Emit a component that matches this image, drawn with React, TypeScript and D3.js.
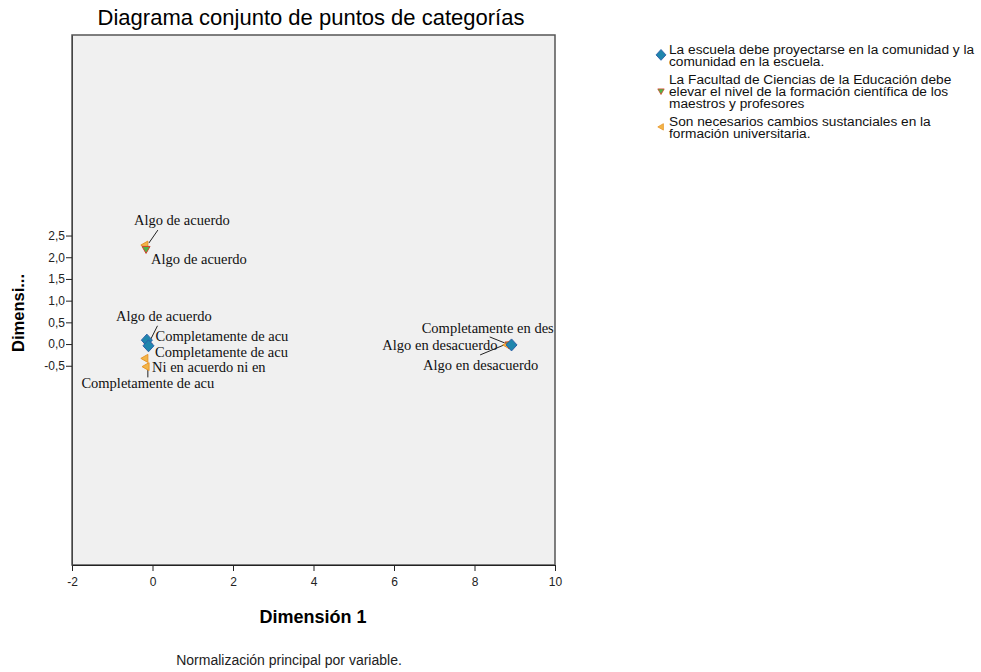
import React, { useEffect, useRef } from 'react';
import * as d3 from 'd3';

// legend / series names
const seriesNames = [
  ['La escuela debe proyectarse en la comunidad y la', 'comunidad en la escuela.'],
  ['La Facultad de Ciencias de la Educación debe', 'elevar el nivel de la formación científica de los', 'maestros y profesores'],
  ['Son necesarios cambios sustanciales en la', 'formación universitaria.'],
];

// serie 1: la escuela
const escuelaCats = ['Algo de acuerdo', 'Completamente de acu', 'Algo en desacuerdo'];
const escuelaDim1 = [-0.14, -0.1, 8.92];
const escuelaDim2 = [0.09, -0.04, -0.02];

// serie 2: facultad
const facultadCats = ['Algo de acuerdo', 'Completamente de acu', 'Algo en desacuerdo'];
const facultadDim1 = [-0.16, -0.11, 8.86];
const facultadDim2 = [2.18, -0.05, -0.02];

// serie 3: cambios
const cambiosCats = ['Algo de acuerdo', 'Completamente de acu', 'Ni en acuerdo ni en ', 'Completamente en des'];
const cambiosDim1 = [-0.19, -0.19, -0.16, 8.8];
const cambiosDim2 = [2.28, -0.33, -0.52, -0.02];

const xTicks = [-2, 0, 2, 4, 6, 8, 10];
const yTicks = [-0.5, 0, 0.5, 1, 1.5, 2, 2.5];

// label placement (pixels, relative to the point) - layout only
const escuelaLabelPos = [
  { dx: 17, dy: -24, anchor: 'middle', leader: null },
  { dx: 7, dy: -10, anchor: 'start', leader: [2, -6, 9, -20] },
  { dx: -14, dy: 0, anchor: 'end', leader: null },
];
const facultadLabelPos = [
  { dx: 5, dy: 9, anchor: 'start', leader: null },
  { dx: 7, dy: 6, anchor: 'start', leader: null },
  { dx: -86, dy: 20, anchor: 'start', leader: [-5, 0, -29, 10] },
];
const cambiosLabelPos = [
  { dx: 37, dy: -25, anchor: 'middle', leader: [4, -2, 13, -15] },
  { dx: 3, dy: 25, anchor: 'middle', leader: [3, 5, 3, 19] },
  { dx: 6, dy: 0, anchor: 'start', leader: null },
  { dx: -85, dy: -17, anchor: 'start', leader: [-2, -2, -17, -8] },
];

const diamondPath = 'M0,-6L5.5,0L0,6L-5.5,0Z';
const triDownPath = 'M-4,-3L4,-3L0,4Z';
const triLeftPath = 'M-4,0L3,-4L3,4Z';

const markerStyles = [
  { path: diamondPath, fill: '#1f86ad', stroke: '#2b5fa8' },
  { path: triDownPath, fill: '#4fb548', stroke: '#d0452b' },
  { path: triLeftPath, fill: '#f2b548', stroke: '#e8952a' },
];

function App() {
  const ref = useRef(null);

  useEffect(() => {
    document.body.style.margin = '0';
    drawChart();
  });

  function drawChart() {
    const left = 72, right = 555, top = 35, bottom = 565;
    const width = 981, height = 672;
    const sans = 'Liberation Sans, Arial, sans-serif';

    d3.select(ref.current).select('svg').remove();

    const svg = d3.select(ref.current)
      .append('svg')
      .attr('width', width)
      .attr('height', height)
      .style('display', 'block')
      .style('background', 'white');

    const xScale = d3.scaleLinear().domain([-2, 10]).range([left, right]);
    const yScale = d3.scaleLinear().domain([-5.09, 7.12]).range([bottom, top]);

    // title
    svg.append('text')
      .attr('x', 311)
      .attr('y', 17)
      .attr('dy', '0.35em')
      .style('text-anchor', 'middle')
      .style('font-family', sans)
      .style('font-size', '22px')
      .text('Diagrama conjunto de puntos de categorías');

    // plot area
    svg.append('defs').append('clipPath')
      .attr('id', 'plotclip')
      .append('rect')
      .attr('x', left).attr('y', top)
      .attr('width', right - left).attr('height', bottom - top);

    svg.append('rect')
      .attr('x', left).attr('y', top)
      .attr('width', right - left).attr('height', bottom - top)
      .attr('fill', '#f0f0f0')
      .attr('stroke', '#555')
      .attr('stroke-width', 1.5);

    const numFmt = (d) => String(d).replace('.', ',');

    // x axis
    const xAxis = d3.axisBottom(xScale)
      .tickValues(xTicks)
      .tickSize(6)
      .tickSizeOuter(0)
      .tickFormat(numFmt);
    const gx = svg.append('g')
      .attr('transform', `translate(0, ${bottom})`)
      .call(xAxis);
    gx.select('.domain').attr('stroke', '#222');
    gx.selectAll('.tick line').attr('stroke', '#222');
    gx.selectAll('text')
      .attr('y', 12)
      .style('font-family', sans)
      .style('font-size', '12px')
      .attr('fill', '#222');

    // y axis
    const commaFmt = (d) => d3.format('.1f')(d).replace('.', ',').replace('−', '-');
    const yAxis = d3.axisLeft(yScale)
      .tickValues(yTicks)
      .tickSize(6)
      .tickSizeOuter(0)
      .tickFormat(commaFmt);
    const gy = svg.append('g')
      .attr('transform', `translate(${left}, 0)`)
      .call(yAxis);
    gy.select('.domain').attr('stroke', '#444');
    gy.selectAll('.tick line').attr('stroke', '#222');
    gy.selectAll('text')
      .attr('x', -7)
      .style('font-family', sans)
      .style('font-size', '12px')
      .attr('fill', '#222');

    // axis titles
    svg.append('text')
      .attr('x', 313)
      .attr('y', 617)
      .attr('dy', '0.35em')
      .style('text-anchor', 'middle')
      .style('font-family', sans)
      .style('font-weight', 'bold')
      .style('font-size', '18px')
      .text('Dimensión 1');

    svg.append('text')
      .attr('transform', 'translate(18, 313) rotate(-90)')
      .attr('dy', '0.35em')
      .style('text-anchor', 'middle')
      .style('font-family', sans)
      .style('font-weight', 'bold')
      .style('font-size', '16.5px')
      .text('Dimensi...');

    svg.append('text')
      .attr('x', 289)
      .attr('y', 660)
      .attr('dy', '0.35em')
      .style('text-anchor', 'middle')
      .style('font-family', sans)
      .style('font-size', '14px')
      .attr('fill', '#222')
      .text('Normalización principal por variable.');

    const series = [
      { cats: escuelaCats, d1: escuelaDim1, d2: escuelaDim2, pos: escuelaLabelPos },
      { cats: facultadCats, d1: facultadDim1, d2: facultadDim2, pos: facultadLabelPos },
      { cats: cambiosCats, d1: cambiosDim1, d2: cambiosDim2, pos: cambiosLabelPos },
    ];

    const plot = svg.append('g').attr('clip-path', 'url(#plotclip)');

    // leader lines
    series.forEach((s) => {
      s.cats.forEach((c, i) => {
        const p = s.pos[i];
        if (!p.leader) return;
        const px = xScale(s.d1[i]), py = yScale(s.d2[i]);
        plot.append('line')
          .attr('x1', px + p.leader[0]).attr('y1', py + p.leader[1])
          .attr('x2', px + p.leader[2]).attr('y2', py + p.leader[3])
          .attr('stroke', '#222')
          .attr('stroke-width', 1);
      });
    });

    // markers (draw last series first so diamonds end on top)
    [2, 1, 0].forEach((k) => {
      const s = series[k];
      const m = markerStyles[k];
      plot.append('g')
        .selectAll('path')
        .data(s.cats.map((c, i) => ({ x: s.d1[i], y: s.d2[i] })))
        .enter()
        .append('path')
        .attr('d', m.path)
        .attr('transform', (d) => `translate(${xScale(d.x)}, ${yScale(d.y)})`)
        .attr('fill', m.fill)
        .attr('stroke', m.stroke)
        .attr('stroke-width', 1);
    });

    // category labels
    series.forEach((s) => {
      s.cats.forEach((c, i) => {
        const p = s.pos[i];
        plot.append('text')
          .attr('x', xScale(s.d1[i]) + p.dx)
          .attr('y', yScale(s.d2[i]) + p.dy)
          .attr('dy', '0.35em')
          .style('text-anchor', p.anchor)
          .style('font-family', 'Liberation Serif, Times New Roman, serif')
          .style('font-size', '14.5px')
          .attr('fill', '#111')
          .text(c);
      });
    });

    // legend
    const legendTop = [49, 79.5, 121];
    const lineH = 11.8;
    seriesNames.forEach((lines, k) => {
      const m = markerStyles[k];
      const y0 = legendTop[k];
      const mid = y0 + (lines.length - 1) * lineH / 2;
      svg.append('path')
        .attr('d', m.path)
        .attr('transform', `translate(661, ${mid}) scale(${k === 0 ? 0.9 : 0.8})`)
        .attr('fill', m.fill)
        .attr('stroke', m.stroke)
        .attr('stroke-width', 1);
      lines.forEach((t, j) => {
        svg.append('text')
          .attr('x', 669)
          .attr('y', y0 + j * lineH)
          .attr('dy', '0.35em')
          .style('font-family', sans)
          .style('font-size', '13.7px')
          .attr('fill', '#111')
          .text(t);
      });
    });
  }

  return <div ref={ref} />;
}

export default App;
